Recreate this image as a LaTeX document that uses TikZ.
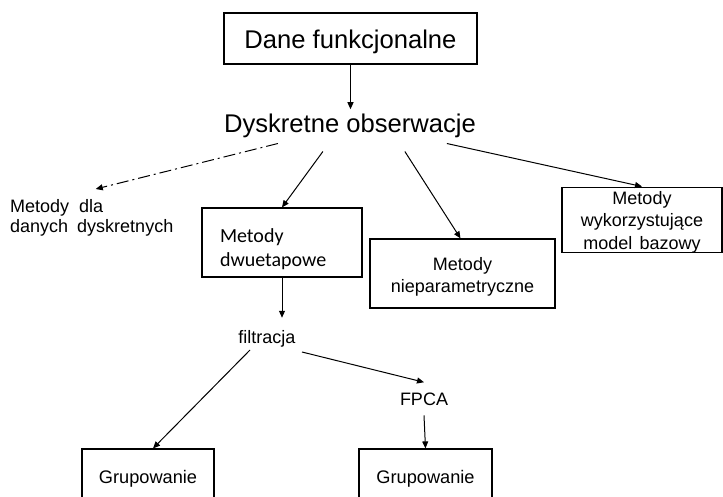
\documentclass[tikz,border=0pt]{standalone}
\usepackage{fontspec}
\setmainfont{Liberation Sans}
\newfontfamily\calibri{Carlito}
\usetikzlibrary{arrows.meta}
\begin{document}
\begin{tikzpicture}[x=1pt,y=-1pt,
  box/.style={draw, line width=1.2pt, inner sep=0pt},
  conn/.style={line width=1pt, -{Triangle[length=7pt,width=6pt]}},
  dashdot/.style={dash pattern=on 12pt off 4pt on 2pt off 4pt},
  big/.style={font=\fontsize{25.6}{30}\selectfont},
  small/.style={font=\fontsize{18}{22}\selectfont},
]
\useasboundingbox (0,0) rectangle (723,497);
\clip (0,0) rectangle (723,497);

\node[box, big, minimum width=253pt, text height=36pt, text depth=15pt, anchor=base] (dane) at (350.5,49) {Dane funkcjonalne};
\node[big, inner sep=5pt, anchor=base] (dysk) at (350,133) {Dyskretne obserwacje};

\node[align=left, inner xsep=0pt, inner ysep=10pt, anchor=north west, font=\fontsize{18}{20}\selectfont] (mdd) at (10,189) {Metody\hspace{0.55em}dla\\danych\hspace{0.5em}dyskretnych};

\node[box, minimum width=160pt, minimum height=69pt, text width=124pt, align=left, font=\calibri\fontsize{20}{24}\selectfont] (dwu) at (282,242.5) {\rule{0pt}{27pt}Metody\\dwuetapowe};

\node[box, minimum width=185pt, minimum height=69pt, align=center, font=\fontsize{18}{22}\selectfont] (niep) at (462.5,273.5) {\rule{0pt}{19pt}Metody\\nieparametryczne};

\node[box, minimum width=160pt, minimum height=64pt, align=center, font=\fontsize{18}{22.5}\selectfont] (wyk) at (642,220) {\rule{0pt}{17pt}Metody\\wykorzystujące\\model\hspace{0.4em}bazowy};

\node[small, inner xsep=0pt, inner ysep=12pt, anchor=base] (filt) at (267,343) {filtracja};
\node[small, inner sep=10pt, anchor=base] (fpca) at (424,405) {FPCA};

\node[box, font=\fontsize{18.2}{21}\selectfont, minimum width=132pt, text height=34pt, text depth=30pt, anchor=base] (gr1) at (148,483) {Grupowanie};
\node[box, font=\fontsize{18.2}{21}\selectfont, minimum width=133pt, text height=34pt, text depth=30pt, anchor=base] (gr2) at (425.5,483) {Grupowanie};

\draw[conn] (dane.south) -- (dane.south |- dysk.north);
\draw[conn, dashdot] ([xshift=59pt]dysk.south west) -- ([xshift=4pt]mdd.north);
\draw[conn] ([xshift=104pt,yshift=-8pt]dysk.south west) -- (dwu.north);
\draw[conn] ([xshift=186pt,yshift=-8pt]dysk.south west) -- ([xshift=-2pt]niep.north);
\draw[conn] ([xshift=228pt]dysk.south west) -- (wyk.north);
\draw[conn] (dwu.south) -- (dwu.south |- filt.north);
\draw[conn] ([xshift=-17pt,yshift=-7pt]filt.base) -- ([xshift=5pt]gr1.north);
\draw[conn] ([xshift=35pt,yshift=-9pt]filt.base) -- (fpca.north);
\draw[conn] (fpca.south) -- (gr2.north);
\end{tikzpicture}
\end{document}
